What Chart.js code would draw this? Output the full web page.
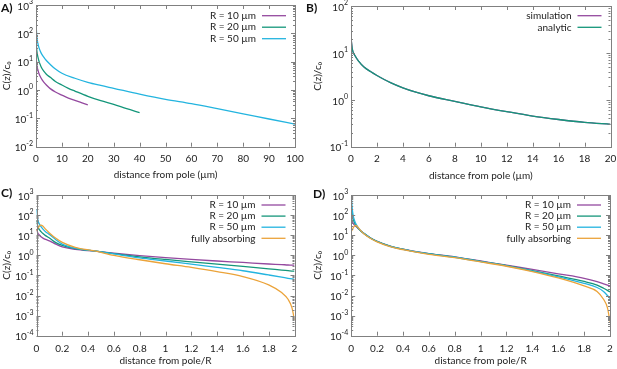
<!DOCTYPE html>
<html>
<head>
<meta charset="utf-8">
<script src="https://cdn.jsdelivr.net/npm/chart.js@4.4.0/dist/chart.umd.min.js"></script>
<style>
body { margin: 0; background: #fff; width: 617px; height: 369px; position: relative; overflow: hidden; }
canvas { position: absolute; }
.lbl { position: absolute; font: bold 12px Lato, sans-serif; color: #111; }
</style>
</head>
<body>
<canvas id="cA" width="305" height="185" style="left:0;top:0"></canvas>
<canvas id="cB" width="312" height="185" style="left:305px;top:0"></canvas>
<canvas id="cC" width="305" height="184" style="left:0;top:185px"></canvas>
<canvas id="cD" width="312" height="184" style="left:305px;top:185px"></canvas>
<div class="lbl" style="left:1px;top:0">A)</div>
<div class="lbl" style="left:306px;top:0">B)</div>
<div class="lbl" style="left:1px;top:185px">C)</div>
<div class="lbl" style="left:313px;top:186px">D)</div>
<script>
// panel A: concentration vs distance (um)
const aX10 = [0, 0.3, 0.7, 1.2, 2, 3, 4, 5.5, 7.5, 10, 12.5, 15, 17.5, 20];
const aY10 = [18, 8, 5.2, 3.7, 2.6, 1.9, 1.5, 1.12, 0.85, 0.66, 0.52, 0.43, 0.36, 0.3];
const aX20 = [0, 0.3, 0.7, 1.2, 2, 3, 4, 5.5, 7.5, 10, 12.5, 15, 20, 25, 30, 35, 40];
const aY20 = [55, 25, 15, 10, 6.5, 4.6, 3.6, 2.8, 2.0, 1.5, 1.15, 0.92, 0.6, 0.42, 0.31, 0.22, 0.16];
const aX50 = [0, 0.3, 0.7, 1.2, 2, 3, 4, 5.5, 7.5, 10, 15, 20, 25, 30, 40, 50, 60, 70, 80, 90, 100];
const aY50 = [250, 80, 45, 30, 20, 14.5, 11, 8, 5.5, 3.9, 2.6, 1.87, 1.45, 1.15, 0.72, 0.47, 0.33, 0.22, 0.145, 0.095, 0.063];

// panel B: simulation vs analytic
const bX = [0, 0.1, 0.3, 0.6, 1, 1.5, 2, 3, 4, 5, 6, 8, 10, 12, 14, 16, 18, 20];
const bSim = [21, 12, 8.8, 6.6, 5.0, 4.0, 3.3, 2.35, 1.8, 1.45, 1.22, 0.93, 0.71, 0.56, 0.45, 0.38, 0.33, 0.3];
const bAna = [21, 12, 8.8, 6.6, 5.0, 4.0, 3.3, 2.35, 1.8, 1.45, 1.22, 0.93, 0.71, 0.56, 0.45, 0.38, 0.33, 0.3];

// panels C and D: distance from pole / R
const cdX = [0, 0.01, 0.02, 0.035, 0.05, 0.07, 0.1, 0.15, 0.2, 0.3, 0.45, 0.6, 0.8, 1.0, 1.2, 1.4, 1.6, 1.8, 1.9, 1.95, 1.98, 2.0];
const cY10 = [20, 13, 10.5, 8.3, 7.2, 6.2, 5.2, 3.6, 2.6, 1.98, 1.6, 1.27, 0.96, 0.76, 0.62, 0.52, 0.44, 0.37, 0.345, 0.33, 0.325, 0.32];
const cY20 = [55, 28, 20, 15, 12, 9.5, 7.2, 4.3, 3.1, 2.15, 1.65, 1.22, 0.84, 0.62, 0.47, 0.36, 0.28, 0.21, 0.185, 0.172, 0.165, 0.16];
const cY50 = [200, 60, 38, 27, 20, 15, 11, 6, 3.6, 2.25, 1.65, 1.17, 0.74, 0.52, 0.36, 0.25, 0.17, 0.105, 0.082, 0.072, 0.067, 0.064];
const cYabs = [16, 22, 28, 32, 28, 20, 13, 7, 4.4, 2.5, 1.65, 1.0, 0.6, 0.38, 0.25, 0.155, 0.088, 0.034, 0.014, 0.0065, 0.0025, 0.0006];
const dY10 = [75, 45, 35, 28, 23, 17, 12, 7.3, 5.0, 2.9, 1.75, 1.22, 0.84, 0.52, 0.32, 0.2, 0.12, 0.072, 0.049, 0.038, 0.033, 0.03];
const dY20 = [260, 90, 50, 32, 24, 17, 12, 7.2, 4.9, 2.85, 1.72, 1.2, 0.82, 0.5, 0.31, 0.175, 0.095, 0.05, 0.033, 0.023, 0.018, 0.015];
const dY50 = [950, 160, 70, 38, 26, 17.5, 12, 7.1, 4.85, 2.8, 1.7, 1.17, 0.8, 0.49, 0.3, 0.165, 0.085, 0.04, 0.025, 0.016, 0.01, 0.007];
const dYabs = [15, 20, 26, 31, 26, 18, 11.5, 6.9, 4.7, 2.7, 1.65, 1.12, 0.76, 0.47, 0.285, 0.155, 0.075, 0.03, 0.016, 0.0065, 0.0025, 0.0005];

const purple = '#94499f', green = '#14967a', cyan = '#23b4df', orange = '#eba33a';
const txt = '#222', frame = '#808080';
const FONT = 'Lato, "DejaVu Sans", sans-serif';

// gnuplot-like frame, inward ticks, 10^n labels and in-plot legend
const gnuPlot = {
  id: 'gnuPlot',
  afterDraw(chart, args, opts) {
    const { ctx, chartArea: a, scales: { x, y } } = chart;
    ctx.save();
    ctx.strokeStyle = frame;
    ctx.lineWidth = 1;
    ctx.beginPath();
    x.ticks.forEach(t => {
      const px = Math.round(x.getPixelForValue(t.value)) + 0.5;
      ctx.moveTo(px, a.bottom); ctx.lineTo(px, a.bottom - 4);
      ctx.moveTo(px, a.top); ctx.lineTo(px, a.top + 4);
    });
    const e0 = Math.round(Math.log10(y.min)), e1 = Math.round(Math.log10(y.max));
    for (let e = e0; e <= e1; e++) {
      for (let m = 1; m <= 9; m++) {
        if (e === e1 && m > 1) break;
        const py = Math.round(y.getPixelForValue(m * Math.pow(10, e))) + 0.5;
        const len = m === 1 ? 4 : 2;
        ctx.moveTo(a.left, py); ctx.lineTo(a.left + len, py);
        ctx.moveTo(a.right, py); ctx.lineTo(a.right - len, py);
      }
    }
    ctx.stroke();
    ctx.strokeRect(Math.round(a.left) + 0.5, Math.round(a.top) + 0.5, Math.round(a.right - a.left), Math.round(a.bottom - a.top));

    // y tick labels as 10 with superscript exponent
    ctx.fillStyle = txt;
    ctx.textBaseline = 'middle';
    for (let e = e0; e <= e1; e++) {
      const py = y.getPixelForValue(Math.pow(10, e));
      const ex = String(e).replace('-', '\u2010');
      ctx.font = '7px ' + FONT;
      const ew = ctx.measureText(ex).width;
      ctx.textAlign = 'left';
      ctx.fillText(ex, a.left - 3 - ew, py - 3);
      ctx.font = '10px ' + FONT;
      ctx.textAlign = 'right';
      ctx.fillText('10', a.left - 3 - ew, py + 1.5);
    }

    // legend: label right-aligned, then line sample
    ctx.font = '10px ' + FONT;
    chart.data.datasets.forEach((ds, i) => {
      const yy = a.top + opts.top + i * opts.gap;
      ctx.fillStyle = txt;
      ctx.textAlign = 'right';
      ctx.fillText(ds.label, a.right - 39, yy);
      ctx.strokeStyle = ds.borderColor;
      ctx.lineWidth = 1.3;
      ctx.beginPath();
      ctx.moveTo(a.right - 33, yy); ctx.lineTo(a.right - 9, yy);
      ctx.stroke();
    });
    ctx.restore();
  }
};

function panel(id, cfg) {
  const datasets = cfg.series.map((s, i) => ({
    label: s.label,
    data: s.x.map((v, k) => ({ x: v, y: s.y[k] })),
    borderColor: s.color,
    borderWidth: 1.3,
    pointRadius: 0,
    fill: false,
    cubicInterpolationMode: 'monotone',
    order: -i
  }));
  return new Chart(document.getElementById(id), {
    type: 'line',
    data: { datasets },
    options: {
      responsive: false,
      animation: false,
      events: [],
      layout: { padding: cfg.pad },
      plugins: {
        legend: { display: false },
        tooltip: { enabled: false },
        gnuPlot: { top: cfg.legTop, gap: cfg.legGap }
      },
      scales: {
        x: {
          type: 'linear', min: cfg.xMin, max: cfg.xMax,
          ticks: {
            stepSize: cfg.xStep, autoSkip: false, maxRotation: 0, padding: cfg.xPad, color: txt,
            font: { family: FONT, size: 10 },
            callback: v => String(+(+v).toFixed(3))
          },
          grid: { display: false, drawTicks: false },
          border: { display: false },
          title: { display: true, text: cfg.xTitle, color: txt, font: { family: FONT, size: 10 }, padding: { top: 0, bottom: cfg.xTitlePad } },
          afterFit(s) { s.height = cfg.xH; s.paddingLeft = 0; s.paddingRight = 0; }
        },
        y: {
          type: 'logarithmic', min: cfg.yMin, max: cfg.yMax,
          ticks: { display: false },
          grid: { display: false, drawTicks: false },
          border: { display: false },
          title: { display: true, text: 'C(z)/c\u2080', color: txt, font: { family: FONT, size: 10 }, padding: { top: cfg.yTitlePad, bottom: 0 } },
          afterFit(s) { s.width = cfg.yW; }
        }
      }
    },
    plugins: [gnuPlot]
  });
}

const um = 'distance from pole (\u00b5m)';
const perR = 'distance from pole/R';

panel('cA', {
  series: [
    { label: 'R = 10 \u00b5m', x: aX10, y: aY10, color: purple },
    { label: 'R = 20 \u00b5m', x: aX20, y: aY20, color: green },
    { label: 'R = 50 \u00b5m', x: aX50, y: aY50, color: cyan }
  ],
  pad: { left: 0, right: 10, top: 5, bottom: 0 },
  xMin: 0, xMax: 100, xStep: 10, yMin: 1e-2, yMax: 1e3,
  xTitle: um, xH: 38.3, xPad: 6, xTitlePad: 4, yW: 36, yTitlePad: 1,
  legTop: 10.7, legGap: 11.5
});

panel('cB', {
  series: [
    { label: 'simulation', x: bX, y: bSim, color: purple },
    { label: 'analytic', x: bX, y: bAna, color: green }
  ],
  pad: { left: 0, right: 6.5, top: 6, bottom: 0 },
  xMin: 0, xMax: 20, xStep: 2, yMin: 1e-1, yMax: 1e2,
  xTitle: um, xH: 38.3, xPad: 6, xTitlePad: 3, yW: 46, yTitlePad: 7,
  legTop: 9.7, legGap: 11.6
});

panel('cC', {
  series: [
    { label: 'R = 10 \u00b5m', x: cdX, y: cY10, color: purple },
    { label: 'R = 20 \u00b5m', x: cdX, y: cY20, color: green },
    { label: 'R = 50 \u00b5m', x: cdX, y: cY50, color: cyan },
    { label: 'fully absorbing', x: cdX, y: cYabs, color: orange }
  ],
  pad: { left: 0, right: 10.5, top: 10, bottom: 0 },
  xMin: 0, xMax: 2, xStep: 0.2, yMin: 1e-4, yMax: 1e3,
  xTitle: perR, xH: 33.3, xPad: 7, xTitlePad: 2, yW: 36.5, yTitlePad: 1,
  legTop: 10, legGap: 11.1
});

panel('cD', {
  series: [
    { label: 'R = 10 \u00b5m', x: cdX, y: dY10, color: purple },
    { label: 'R = 20 \u00b5m', x: cdX, y: dY20, color: green },
    { label: 'R = 50 \u00b5m', x: cdX, y: dY50, color: cyan },
    { label: 'fully absorbing', x: cdX, y: dYabs, color: orange }
  ],
  pad: { left: 0, right: 7, top: 10, bottom: 0 },
  xMin: 0, xMax: 2, xStep: 0.2, yMin: 1e-4, yMax: 1e3,
  xTitle: perR, xH: 33.3, xPad: 7, xTitlePad: 2, yW: 46.2, yTitlePad: 7,
  legTop: 10, legGap: 11.1
});
</script>
</body>
</html>
